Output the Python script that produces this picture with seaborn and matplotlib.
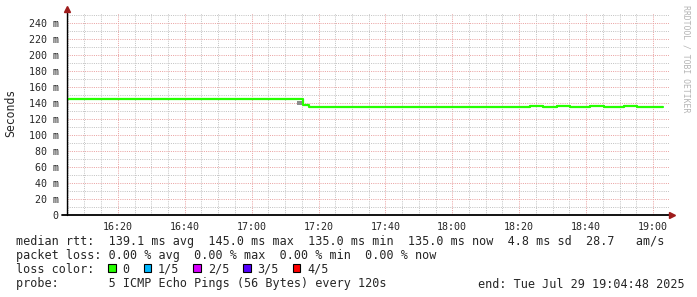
import matplotlib
matplotlib.use("Agg")
import matplotlib.pyplot as plt
import matplotlib.dates as mdates
from matplotlib.patches import Rectangle
import pandas as pd
import seaborn as sns

# ---------------- data ----------------
start_time = "2025-07-29 16:04:48"
end_time = "2025-07-29 19:04:48"
# median rtt as steps: change points (minutes after start) and values (ms)
step_minutes = [0, 70.7, 72.4, 138.4, 142.4, 146.5, 150.4, 156.4, 160.6, 166.6, 170.4, 178.2]
step_rtt_ms = [145.0, 137.5, 135.0, 136.3, 135.0, 136.3, 135.0, 136.3, 135.0, 136.3, 135.0, 135.0]
# smoke (spread of pings) block
smoke_minutes = [68.7, 70.7]
smoke_range_ms = [137.0, 143.0]

y_ticks_major = [0, 20, 40, 60, 80, 100, 120, 140, 160, 180, 200, 220, 240]
loss_labels = ["0", "1/5", "2/5", "3/5", "4/5"]
loss_colors = ["#26ff00", "#00b8ff", "#d800ff", "#5500ff", "#ff0000"]

line_rtt = "median rtt:  139.1 ms avg  145.0 ms max  135.0 ms min  135.0 ms now  4.8 ms sd  28.7   am/s"
line_loss = "packet loss: 0.00 % avg  0.00 % max  0.00 % min  0.00 % now"
line_probe = "probe:       5 ICMP Echo Pings (56 Bytes) every 120s"
line_end = "end: Tue Jul 29 19:04:48 2025"
credit = "RRDTOOL / TOBI OETIKER"

# ---------------- figure ----------------
sns.set_style("white")
plt.rcParams["font.family"] = ["DejaVu Sans Mono", "DejaVu Sans"]

W, H = 697, 297
fig = plt.figure(figsize=(W / 100, H / 100), dpi=100)
fig.patch.set_facecolor("white")
L, R, T, B = 67, 669, 13, 215
ax = fig.add_axes([L / W, 1 - B / H, (R - L) / W, (B - T) / H])
ax.set_facecolor("white")

t0 = pd.Timestamp(start_time)
df = pd.DataFrame({
    "time": [t0 + pd.Timedelta(minutes=m) for m in step_minutes],
    "rtt": step_rtt_ms,
})

# smoke
s0 = t0 + pd.Timedelta(minutes=smoke_minutes[0])
s1 = t0 + pd.Timedelta(minutes=smoke_minutes[1])
ax.fill_between([s0, s1], smoke_range_ms[0], smoke_range_ms[1], color="#8c8c8c", lw=0, zorder=3)

sns.lineplot(data=df, x="time", y="rtt", drawstyle="steps-post", color=loss_colors[0],
             lw=1.6, estimator=None, ax=ax, zorder=4)

ax.set_xlim(t0, pd.Timestamp(end_time))
ax.set_ylim(0, 252.5)

ax.xaxis.set_major_locator(mdates.MinuteLocator(byminute=[0, 20, 40]))
ax.xaxis.set_minor_locator(mdates.MinuteLocator(byminute=range(0, 60, 5)))
ax.xaxis.set_major_formatter(mdates.DateFormatter("%H:%M"))
ax.set_yticks(y_ticks_major)
ax.set_yticks(list(range(10, 260, 20)), minor=True)
ax.set_yticklabels(["0" if v == 0 else f"{v} m" for v in y_ticks_major])

ax.grid(True, which="minor", color="#c4c4c4", lw=0.72, linestyle=(0, (1, 1.2)))
ax.grid(True, which="major", color="#eaa3a3", lw=0.72, linestyle=(0, (1, 1.2)))
ax.set_axisbelow(True)

ax.tick_params(axis="x", which="major", length=2, color="#eaa3a3", pad=3, labelsize=7.2)
ax.tick_params(axis="x", which="minor", length=0)
ax.tick_params(axis="y", which="both", length=0, pad=6, labelsize=7.2)
ax.set_xlabel("")
ax.set_ylabel("")
for s in ax.spines.values():
    s.set_visible(False)

# axes lines with arrows
ax.plot([0, 0], [0, 1 + 3 / (B - T)], transform=ax.transAxes, color="black", lw=1.0,
        clip_on=False, zorder=6)
ax.plot([-5 / (R - L), 1 + 1 / (R - L)], [0, 0], transform=ax.transAxes, color="black",
        lw=1.3, clip_on=False, zorder=6)
ax.plot([0], [1 + 4 / (B - T)], marker="^", markersize=5, color="#9e1b1b",
        transform=ax.transAxes, clip_on=False, zorder=7)
ax.plot([1 + 3 / (R - L)], [0], marker=">", markersize=5, color="#9e1b1b",
        transform=ax.transAxes, clip_on=False, zorder=7)

# labels
fig.text(11 / W, 1 - 113 / H, "Seconds", rotation=90, ha="center", va="center", fontsize=8.3)
fig.text(686 / W, 1 - 5 / H, credit, rotation=270, ha="center", va="top", fontsize=5.9,
         color="#b4b4b4")

cw = 7.1
x0 = 16
fs = 8.5
fig.text(x0 / W, 1 - 245 / H, line_rtt, fontsize=fs, va="baseline")
fig.text(x0 / W, 1 - 259 / H, line_loss, fontsize=fs, va="baseline")
fig.text(x0 / W, 1 - 273 / H, "loss color:", fontsize=fs, va="baseline")
fig.text(x0 / W, 1 - 287.5 / H, line_probe, fontsize=fs, va="baseline")
fig.text((x0 + 65 * cw) / W, 1 - 287.5 / H, line_end, fontsize=fs, va="baseline")

col = 13
for lab, c in zip(loss_labels, loss_colors):
    bx = x0 + col * cw
    fig.add_artist(Rectangle((bx / W, 1 - 272 / H), 7.5 / W, 8 / H, transform=fig.transFigure,
                             facecolor=c, edgecolor="black", lw=0.8))
    fig.text((x0 + (col + 2) * cw) / W, 1 - 273 / H, lab, fontsize=fs, va="baseline")
    col += 2 + len(lab) + 2

fig.savefig("out.png", dpi=100)
